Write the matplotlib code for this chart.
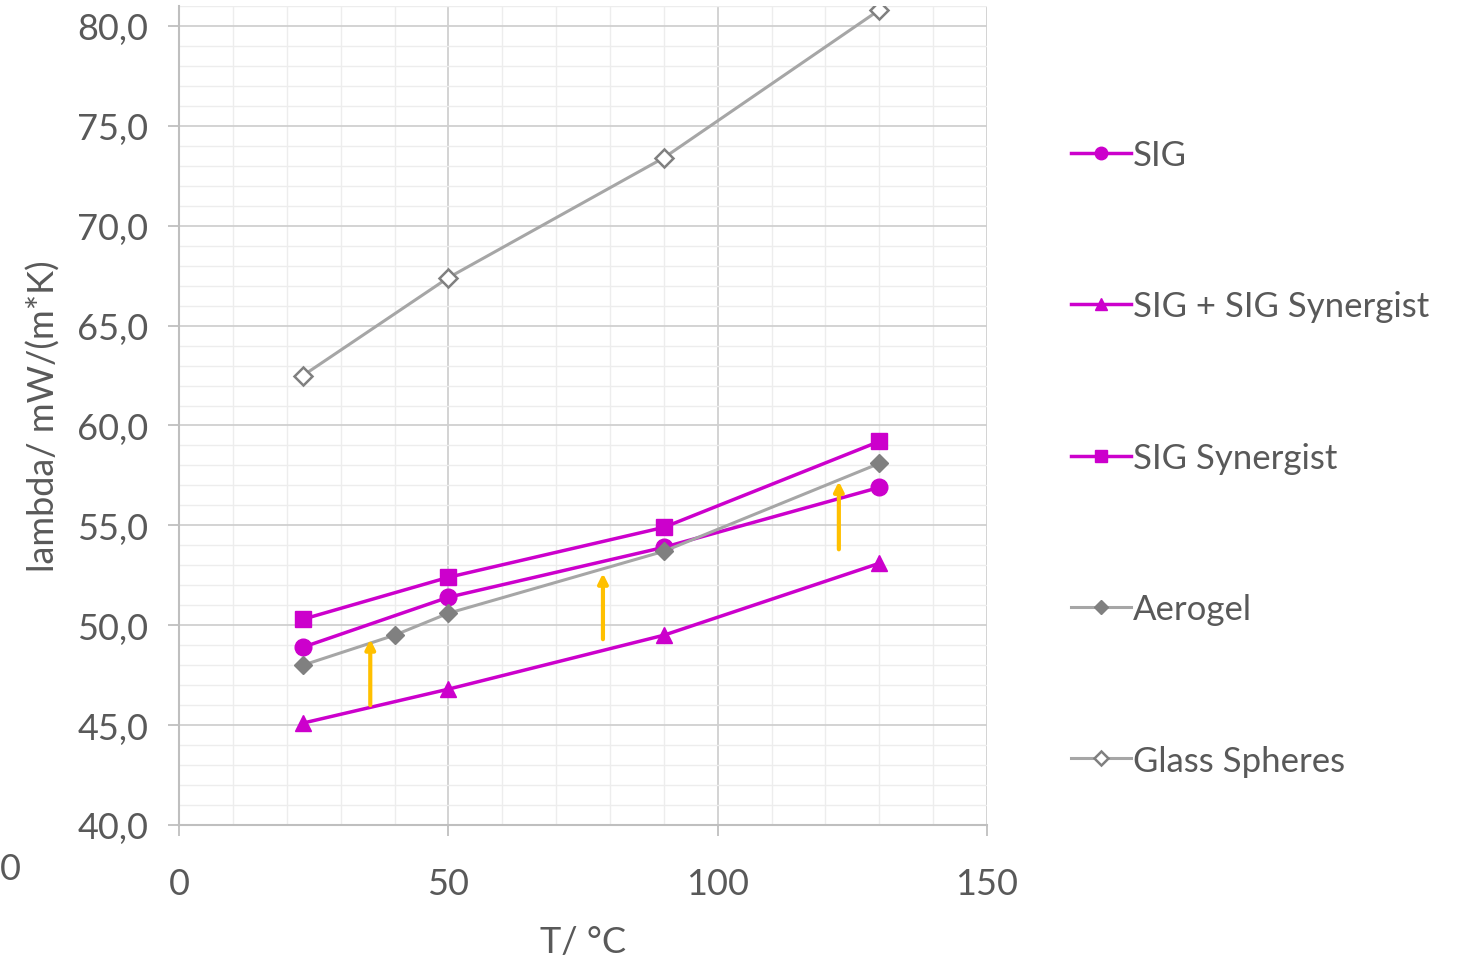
import matplotlib
matplotlib.use("Agg")
import matplotlib.pyplot as plt
from matplotlib.ticker import MultipleLocator, FuncFormatter

plt.rcParams["font.family"] = ["Lato", "DejaVu Sans"]

# data
T = [23, 50, 90, 130]
sig = [48.9, 51.4, 53.9, 56.9]
sig_plus_syn = [45.1, 46.8, 49.5, 53.1]
sig_syn = [50.3, 52.4, 54.9, 59.2]
T_aerogel = [23, 40, 50, 90, 130]
aerogel = [48.0, 49.5, 50.6, 53.7, 58.1]
glass = [62.5, 67.4, 73.4, 80.8]

# orange arrows: x, start, end
arrow_x = [35.5, 78.7, 122.5]
arrow_y0 = [46.0, 49.3, 53.8]
arrow_y1 = [49.3, 52.6, 57.2]

MAG = "#CC00CC"
GREY = "#A6A6A6"
TXT = "#595959"
FS = 26

fig = plt.figure(figsize=(14.57, 9.62), dpi=100)
ax = fig.add_axes([0.1229, 0.1414, 0.5545, 0.8513])

ax.plot(T, sig, color=MAG, lw=2.5, marker="o", ms=12, label="SIG")
ax.plot(T, sig_plus_syn, color=MAG, lw=2.5, marker="^", ms=12, label="SIG + SIG Synergist")
ax.plot(T, sig_syn, color=MAG, lw=2.5, marker="s", ms=12, label="SIG Synergist")
ax.plot(T_aerogel, aerogel, color=GREY, lw=2.2, marker="D", ms=9,
        mfc="#808080", mec="#808080", label="Aerogel")
ax.plot(T, glass, color=GREY, lw=2.2, marker="D", ms=9.5, mfc="white",
        mec="#808080", mew=1.8, label="Glass Spheres")

for x, y0, y1 in zip(arrow_x, arrow_y0, arrow_y1):
    ax.annotate("", xy=(x, y1), xytext=(x, y0),
                arrowprops=dict(arrowstyle="-|>", color="#FFC000", lw=3,
                                mutation_scale=14, shrinkA=0, shrinkB=0))

ax.set_xlim(0, 150)
ax.set_ylim(40, 81)
ax.xaxis.set_major_locator(MultipleLocator(50))
ax.xaxis.set_minor_locator(MultipleLocator(10))
ax.yaxis.set_major_locator(MultipleLocator(5))
ax.yaxis.set_minor_locator(MultipleLocator(1))
ax.yaxis.set_major_formatter(FuncFormatter(lambda v, p: f"{v:.1f}".replace(".", ",")))
ax.grid(which="major", color="#D0D0D0", lw=1.3)
ax.grid(which="minor", color="#EDEDED", lw=1.0)
ax.set_axisbelow(True)
for s in ["top", "right"]:
    ax.spines[s].set_visible(False)
for s in ["left", "bottom"]:
    ax.spines[s].set_color("#BFBFBF")
    ax.spines[s].set_linewidth(1.5)
ax.tick_params(which="major", length=8, width=1.3, color="#BFBFBF",
               labelsize=FS, labelcolor=TXT)
ax.tick_params(axis="x", which="major", pad=22)
ax.tick_params(axis="y", which="major", pad=14)
ax.tick_params(which="minor", length=0)

ax.set_xlabel("T/ °C", fontsize=FS, color=TXT, labelpad=18)
ax.set_ylabel("lambda/ mW/(m*K)", fontsize=FS, color=TXT, labelpad=12)

# stray label at the left edge of the original
fig.text(0.0, 0.085, "0", fontsize=FS, color=TXT)

leg = ax.legend(loc="upper left", bbox_to_anchor=(1.065, 0.876), frameon=False,
                fontsize=25, labelcolor=TXT, labelspacing=3.44,
                handlelength=1.75, handletextpad=0.05, markerscale=0.75)

fig.savefig("out.png", dpi=100)
